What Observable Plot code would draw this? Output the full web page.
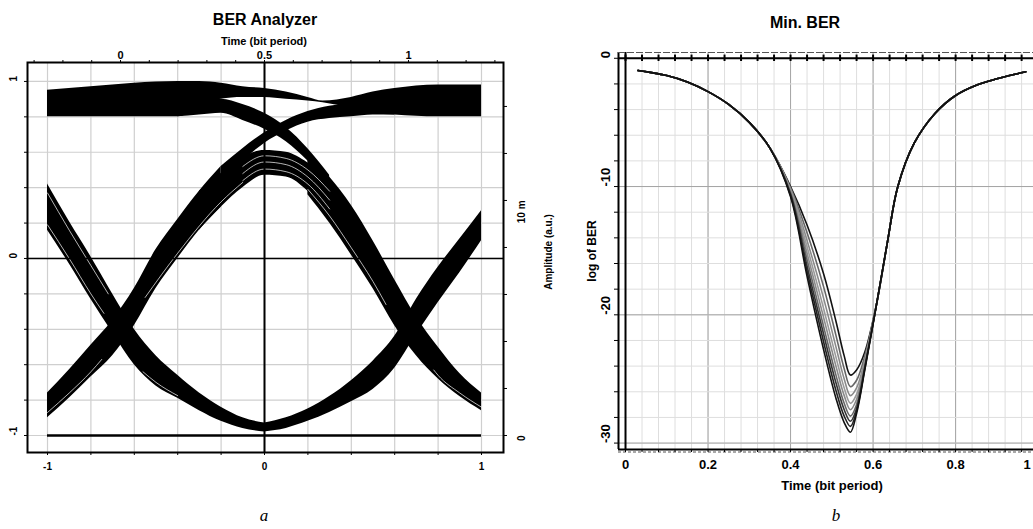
<!DOCTYPE html>
<html><head><meta charset="utf-8">
<script src="https://cdn.jsdelivr.net/npm/d3@7"></script>
<script src="https://cdn.jsdelivr.net/npm/@observablehq/plot@0.6"></script>
<style>
body{margin:0;background:#fff;}
#root{position:relative;width:1033px;height:529px;overflow:hidden;background:#fff;font-family:"Liberation Sans",Arial,sans-serif;color:#000;}
.t{position:absolute;white-space:nowrap;font-weight:bold;transform:translate(-50%,-50%);}
.r{transform:translate(-50%,-50%) rotate(-90deg);}
.cap{position:absolute;font-family:"Liberation Serif","DejaVu Serif",serif;font-style:italic;font-size:17px;transform:translate(-50%,-50%);}
#pa,#pb{position:absolute;top:0;}
#pa{left:0;width:560px;} #pb{left:560px;width:500px;}
#pa svg,#pb svg{max-width:none !important;}
</style></head><body><div id="root">
<div id="pa"></div><div id="pb"></div>
<div class="t" style="left:265px;top:20px;font-size:16px;">BER Analyzer</div>
<div class="t" style="left:264px;top:41px;font-size:11px;">Time (bit period)</div>
<div class="t r" style="left:548px;top:252px;font-size:10px;">Amplitude (a.u.)</div>
<div class="t" style="left:805px;top:23px;font-size:16px;">Min. BER</div>
<div class="t r" style="left:592px;top:251px;font-size:12px;">log of BER</div>
<div class="t" style="left:832px;top:485px;font-size:13px;">Time (bit period)</div>
<div class="cap" style="left:264px;top:516px;">a</div>
<div class="cap" style="left:836px;top:516px;">b</div>
</div>
<script>
// ================= Panel a : eye diagram =================
const aBottomTicks = [-1,-0.8,-0.6,-0.4,-0.2,0,0.2,0.4,0.6,0.8,1];
const aBottomLabels = [{v:-1,s:"-1"},{v:0,s:"0"},{v:1,s:"1"}];
const aTopTicks = [-0.3,-0.2,-0.1,0,0.1,0.2,0.3,0.4,0.5,0.6,0.7,0.8,0.9,1,1.1,1.2,1.3];
const aTopLabels = [{v:0,s:"0"},{v:0.5,s:"0.5"},{v:1,s:"1"}];
const aLeftTicks = [-1,-0.8,-0.6,-0.4,-0.2,0,0.2,0.4,0.6,0.8,1];
const aLeftLabels = [{v:-1,s:"-1"},{v:0,s:"0"},{v:1,s:"1"}];
const aRightTicks = [0,2,4,6,8,10,12,14];
const aRightLabels = [{v:0,s:"0"},{v:10,s:"10 m"}];

// Trace bands: upper (hi) and lower (lo) edges
const railU  = [-1,-0.8,-0.6,-0.4,-0.3,-0.2,-0.1,0,0.1,0.2,0.27,0.4,0.5,0.6,0.8,1];
const railHi = [0.95,0.97,0.99,1.0,1.0,0.99,0.97,0.96,0.94,0.91,0.89,0.91,0.94,0.96,0.98,0.98];
const railLo = [0.80,0.80,0.80,0.80,0.85,0.9,0.91,0.91,0.9,0.89,0.88,0.85,0.82,0.81,0.80,0.80];

const riseU  = [-1,-0.9,-0.8,-0.7,-0.6,-0.5,-0.4,-0.3,-0.2];
const riseHi = [-0.76,-0.63,-0.49,-0.35,-0.17,0.05,0.22,0.38,0.52];
const riseLo = [-0.90,-0.79,-0.67,-0.55,-0.38,-0.17,0.0,0.16,0.29];

const r011U  = [-0.2,-0.1,0,0.1,0.2,0.3,0.4,0.5,0.6];
const r011Hi = [0.52,0.62,0.71,0.78,0.83,0.86,0.87,0.88,0.88];
const r011Lo = [0.44,0.55,0.65,0.72,0.77,0.79,0.80,0.81,0.81];

const f110U  = [-0.4,-0.3,-0.2,-0.1,0,0.1,0.2,0.3];
const f110Hi = [0.90,0.90,0.90,0.87,0.82,0.74,0.62,0.47];
const f110Lo = [0.80,0.81,0.82,0.78,0.73,0.66,0.55,0.41];

const archU  = [-0.3,-0.2,-0.1,0,0.1,0.2,0.3,0.4];
const archHi = [0.38,0.48,0.57,0.61,0.60,0.54,0.44,0.28];
const archLo = [0.16,0.29,0.40,0.47,0.46,0.38,0.24,0.06];

const fallRU  = [0.2,0.3,0.4,0.5,0.6,0.7,0.8,0.9,1];
const fallRHi = [0.58,0.46,0.30,0.10,-0.12,-0.33,-0.50,-0.65,-0.76];
const fallRLo = [0.36,0.20,0.02,-0.17,-0.38,-0.55,-0.68,-0.78,-0.86];

const fallLU  = [-1,-0.9,-0.8,-0.7,-0.6,-0.5,-0.4,-0.3,-0.2,-0.1,0];
const fallLHi = [0.42,0.21,0.01,-0.20,-0.40,-0.55,-0.66,-0.76,-0.84,-0.90,-0.93];
const fallLLo = [0.16,-0.03,-0.23,-0.42,-0.60,-0.72,-0.79,-0.86,-0.92,-0.96,-0.98];

const riseRU  = [0,0.1,0.2,0.3,0.4,0.5,0.6,0.7,0.8,0.9,1];
const riseRHi = [-0.93,-0.90,-0.85,-0.78,-0.69,-0.58,-0.44,-0.23,-0.05,0.11,0.27];
const riseRLo = [-0.98,-0.96,-0.92,-0.87,-0.81,-0.74,-0.62,-0.43,-0.25,-0.08,0.10];

// thin white gaps between individual traces inside the bands (kept off the crossings)
const gapArchU = [-0.1,0,0.1,0.2,0.3];
const gapArchA = [0.44,0.505,0.49,0.42,0.28];
const gapArchB = [0.48,0.545,0.53,0.46,0.33];
const gapArchC = [0.52,0.58,0.565,0.50,0.38];
const gapFLU = [-1,-0.9,-0.8,-0.72];
const gapFL  = [0.37,0.16,-0.04,-0.20];
const gapFL2aU = [-1,-0.9,-0.8,-0.74];
const gapFL2a  = [0.19,0.0,-0.20,-0.31];
const gapFL2bU = [-0.56,-0.5,-0.4];
const gapFL2b  = [-0.64,-0.70,-0.775];
const gapRLaU = [-1,-0.9,-0.8,-0.75];
const gapRLa  = [-0.87,-0.76,-0.64,-0.57];
const gapRLbU = [-0.55,-0.4,-0.2,-0.1];
const gapRLb  = [-0.22,0.03,0.32,0.43];
const gapFRaU = [0.2,0.3,0.4,0.5,0.56];
const gapFRa  = [0.39,0.24,0.06,-0.13,-0.26];
const gapFRbU = [0.78,0.8,0.9,1];
const gapFRb  = [-0.63,-0.66,-0.76,-0.84];

const zeroLevel = [-1];
const zeroSpan = [-1, 1];

const TOP_SCALE = 288/217;      // bit period -> lower axis units
const RIGHT_SCALE = 23.5/177;   // m -> left axis units

const band = (u, hi, lo) => u.map((x, i) => ({u: x, hi: hi[i], lo: lo[i]}));
const pts = (u, y) => u.map((x, i) => ({u: x, y: y[i]}));
const bands = [
  band(railU, railHi, railLo), band(riseU, riseHi, riseLo), band(r011U, r011Hi, r011Lo),
  band(f110U, f110Hi, f110Lo), band(archU, archHi, archLo), band(fallRU, fallRHi, fallRLo),
  band(fallLU, fallLHi, fallLLo), band(riseRU, riseRHi, riseRLo)
];
const gaps = [
  pts(gapArchU, gapArchA), pts(gapArchU, gapArchB), pts(gapArchU, gapArchC),
  pts(gapFLU, gapFL), pts(gapFL2aU, gapFL2a), pts(gapFL2bU, gapFL2b),
  pts(gapRLaU, gapRLa), pts(gapRLbU, gapRLb), pts(gapFRaU, gapFRa), pts(gapFRbU, gapFRb)
];

const styleBase = {background: "transparent", fontFamily: "'Liberation Sans', Arial, sans-serif", fontWeight: "bold", color: "black", overflow: "visible", maxWidth: "none"};

const plotA = Plot.plot({
  width: 560, height: 529,
  marginLeft: 27, marginRight: 57, marginTop: 62, marginBottom: 77,
  x: {domain: [-1.0922, 1.1014], axis: null},
  y: {domain: [-1.096, 1.107], axis: null},
  style: {...styleBase, fontSize: "10px"},
  marks: [
    Plot.gridX(aBottomTicks, {stroke: "#cfcfcf", strokeOpacity: 1, strokeWidth: 1.2}),
    Plot.gridY(aLeftTicks, {stroke: "#cfcfcf", strokeOpacity: 1, strokeWidth: 1.2}),
    ...bands.map(b => Plot.areaY(b, {x: "u", y1: "lo", y2: "hi", fill: "black", curve: "monotone-x"})),
    ...gaps.map(g => Plot.line(g, {x: "u", y: "y", stroke: "white", strokeWidth: 0.7, curve: "monotone-x"})),
    Plot.ruleY(zeroLevel, {x1: zeroSpan[0], x2: zeroSpan[1], stroke: "black", strokeWidth: 2.5}),
    Plot.ruleX([0], {stroke: "black", strokeWidth: 2}),
    Plot.ruleY([0], {stroke: "black", strokeWidth: 1.5}),
    Plot.frame({stroke: "black", strokeWidth: 2}),
    Plot.axisX(aBottomTicks, {anchor: "bottom", tickSize: 3, tickFormat: () => "", label: null}),
    Plot.axisX(aTopTicks.map(t => (t - 0.5) * TOP_SCALE), {anchor: "top", tickSize: 3, tickFormat: () => "", label: null}),
    Plot.axisY(aLeftTicks, {anchor: "left", tickSize: 3, tickFormat: () => "", label: null}),
    Plot.axisY(aRightTicks.map(m => -1 + m * RIGHT_SCALE), {anchor: "right", tickSize: 3, tickFormat: () => "", label: null}),
    Plot.text(aBottomLabels, {x: "v", frameAnchor: "bottom", dy: 17, text: "s"}),
    Plot.text(aTopLabels, {x: d => (d.v - 0.5) * TOP_SCALE, frameAnchor: "top", dy: -11, text: "s", fontSize: 11}),
    Plot.text(aLeftLabels, {y: "v", frameAnchor: "left", dx: -14, rotate: -90, text: "s"}),
    Plot.text(aRightLabels, {y: d => -1 + d.v * RIGHT_SCALE, frameAnchor: "right", dx: 18, rotate: -90, text: "s"})
  ]
});
document.getElementById("pa").appendChild(plotA);

// ================= Panel b : Min. BER =================
const bXTicks = [0,0.04,0.08,0.12,0.16,0.2,0.24,0.28,0.32,0.36,0.4,0.44,0.48,0.52,0.56,0.6,0.64,0.68,0.72,0.76,0.8,0.84,0.88,0.92,0.96,1.0];
const bXMajor = [0.2, 0.4, 0.6, 0.8, 1.0];
const bXLabels = [{v:0,s:"0"},{v:0.2,s:"0.2"},{v:0.4,s:"0.4"},{v:0.6,s:"0.6"},{v:0.8,s:"0.8"}];
const bXLabelEdge = [{v:1,s:"1"}];   // sits at the right edge of the picture
const bYTicks = [0,-2,-4,-6,-8,-10,-12,-14,-16,-18,-20,-22,-24,-26,-28,-30];
const bYMajor = [-10, -20, -30];
const bYLabels = [{v:0,s:"0"},{v:-10,s:"-10"},{v:-20,s:"-20"},{v:-30,s:"-30"}];

const tLeft = [0.03,0.06,0.1,0.15,0.2,0.25,0.3,0.35];
const berLeft = [-0.95,-1.1,-1.35,-1.85,-2.6,-3.6,-5.0,-7.0];
const tRight = [0.66,0.7,0.75,0.8,0.85,0.9,0.95,0.97];
const berRight = [-10.0,-6.6,-4.3,-2.9,-2.1,-1.6,-1.2,-1.05];
const tDip = [0.4,0.44,0.48,0.51,0.53,0.545,0.56,0.58,0.61,0.635];
const berDip = [
  [-10.0,-13.0,-16.8,-20.5,-23.2,-24.7,-24.3,-22.9,-18.9,-14.3],
  [-10.1,-13.6,-17.8,-21.6,-24.2,-25.6,-25.1,-23.2,-18.9,-14.3],
  [-10.2,-14.2,-18.7,-22.5,-25.0,-26.3,-25.7,-23.5,-18.9,-14.3],
  [-10.3,-14.7,-19.5,-23.3,-25.7,-26.9,-26.2,-23.7,-18.9,-14.3],
  [-10.4,-15.2,-20.2,-24.0,-26.3,-27.4,-26.6,-23.9,-18.9,-14.3],
  [-10.5,-15.7,-20.9,-24.7,-26.9,-27.9,-27.0,-24.0,-18.9,-14.3],
  [-10.6,-16.2,-21.5,-25.3,-27.4,-28.3,-27.3,-24.1,-18.9,-14.3],
  [-10.7,-16.6,-22.1,-25.9,-27.9,-28.7,-27.5,-24.2,-18.9,-14.3],
  [-10.8,-17.0,-22.7,-26.5,-28.4,-29.15,-27.7,-24.3,-18.9,-14.3]
];
const curveColors = ["#111","#666","#8a8a8a","#9a9a9a","#8a8a8a","#666","#333","#222","#111"];

const curves = berDip.map(row => [
  ...tLeft.map((t, i) => ({t, v: berLeft[i]})),
  ...tDip.map((t, i) => ({t, v: row[i]})),
  ...tRight.map((t, i) => ({t, v: berRight[i]}))
]);

const plotB = Plot.plot({
  width: 500, height: 529,
  marginLeft: 58, marginRight: 10, marginTop: 52, marginBottom: 80,
  x: {domain: [-0.017, 1.03], axis: null},
  y: {domain: [-30.5, 0.45], axis: null},
  style: {...styleBase, fontSize: "13px"},
  marks: [
    Plot.gridX(bXTicks, {stroke: "#dedede", strokeOpacity: 1}),
    Plot.gridX(bXMajor, {stroke: "#a5a5a5", strokeOpacity: 1}),
    Plot.gridY(bYTicks, {stroke: "#dedede", strokeOpacity: 1}),
    Plot.gridY(bYMajor, {stroke: "#a5a5a5", strokeOpacity: 1}),
    ...curves.map((c, i) => Plot.line(c, {x: "t", y: "v", stroke: curveColors[i], strokeWidth: 1.6, curve: "catmull-rom"})),
    Plot.ruleX([0], {stroke: "black", strokeWidth: 2}),
    Plot.ruleY([0], {stroke: "black", strokeWidth: 2}),
    Plot.ruleX([-0.017], {stroke: "black", strokeWidth: 2}),
    Plot.ruleY([-30.5], {stroke: "black", strokeWidth: 2}),
    Plot.ruleY([0.45], {stroke: "#555", strokeWidth: 1.2, strokeDasharray: "7,2"}),
    Plot.ruleY([-30.5], {stroke: "#555", strokeWidth: 1, strokeDasharray: "3,2", dy: 2.5}),
    Plot.axisX(bXTicks, {anchor: "bottom", tickSize: 3, tickFormat: () => "", label: null}),
    Plot.ruleX(bXTicks, {y1: -0.25, y2: 0.25, stroke: "black", strokeWidth: 2}),
    Plot.axisY(bYTicks, {anchor: "left", tickSize: 4, tickFormat: () => "", label: null}),
    Plot.text(bXLabels, {x: "v", frameAnchor: "bottom", dy: 19, text: "s"}),
    Plot.text(bXLabelEdge, {x: "v", frameAnchor: "bottom", dy: 19, dx: -11, text: "s"}),
    Plot.text(bYLabels, {y: "v", frameAnchor: "left", dx: -13, rotate: -90, text: "s"})
  ]
});
document.getElementById("pb").appendChild(plotB);
</script>
</body></html>
